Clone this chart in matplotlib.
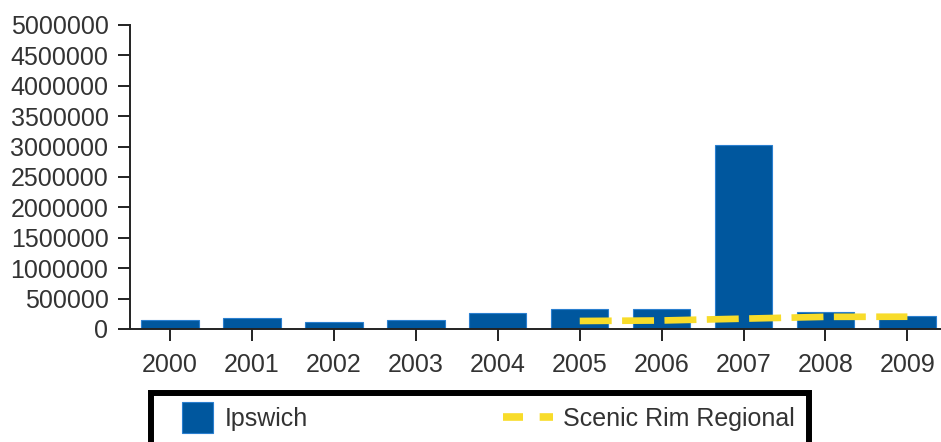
import matplotlib
matplotlib.use('Agg')
import matplotlib.pyplot as plt
import matplotlib.patches as mpatches
from matplotlib.legend_handler import HandlerPatch
from matplotlib.lines import Line2D

# data
years = ['2000', '2001', '2002', '2003', '2004', '2005', '2006', '2007', '2008', '2009']
ipswich = [148000, 186000, 115000, 148000, 257000, 322000, 324000, 3030000, 285000, 219000]
scenic_years = ['2005', '2006', '2007', '2008', '2009']
scenic_rim = [132000, 140000, 170000, 200000, 202000]
yticks = [0, 500000, 1000000, 1500000, 2000000, 2500000, 3000000, 3500000, 4000000, 4500000, 5000000]

BLUE = '#00579e'
EDGE = '#2a7fcf'
YELLOW = '#f8dc2a'
TXT = '#333333'

plt.rcParams['font.family'] = ['Liberation Sans', 'DejaVu Sans']
plt.rcParams['lines.scale_dashes'] = False

fig = plt.figure(figsize=(9.41, 4.42), dpi=100)
ax = fig.add_axes([130/941, 113/442, (941-130)/941, 304/442])

xpos = list(range(len(years)))
ax.bar(xpos, ipswich, width=0.7, color=BLUE, edgecolor=EDGE, linewidth=0.8, zorder=2)
sx = [years.index(y) for y in scenic_years]
ax.plot(sx, scenic_rim, color=YELLOW, lw=4.8, dashes=(23, 7.5), zorder=3)

ax.set_xlim(-0.49, 9.41)
ax.set_ylim(0, 5000000)
ax.set_yticks(yticks)
ax.set_yticklabels([str(v) for v in yticks])
ax.set_xticks(xpos)
ax.set_xticklabels(years)

for s in ['top', 'right']:
    ax.spines[s].set_visible(False)
for s in ['left', 'bottom']:
    ax.spines[s].set_linewidth(1.4)
    ax.spines[s].set_color('#222222')
ax.tick_params(axis='y', length=8.5, width=1.4, pad=7, labelsize=18, colors='#222222', labelcolor=TXT)
ax.tick_params(axis='x', length=8.5, width=1.4, pad=9, labelsize=18, colors='#222222', labelcolor=TXT)


# square legend patch, narrower than the handle box, like the original
def square_patch(legend, orig_handle, xdescent, ydescent, width, height, fontsize):
    side = 0.62 * width
    return mpatches.Rectangle((-xdescent + 0.34 * width, -ydescent + height / 2 - side / 2), side, side)


h_bar = mpatches.Patch(facecolor=BLUE, edgecolor=EDGE, linewidth=0.8)
h_line = Line2D([], [], color=YELLOW, lw=5.5, dashes=(14.4, 12))
leg = fig.legend([h_bar, h_line], ['Ipswich', 'Scenic Rim Regional'],
                 loc='upper left', bbox_to_anchor=(151/941, 0, (809-151)/941, 1-393/442),
                 mode='expand', ncol=2, fontsize=18, frameon=True, fancybox=False,
                 framealpha=1, handlelength=2.0, handletextpad=0.4, borderpad=0.56,
                 borderaxespad=0,
                 handler_map={mpatches.Patch: HandlerPatch(patch_func=square_patch)})
for t in leg.get_texts():
    t.set_color(TXT)
fr = leg.get_frame()
fr.set_edgecolor('black')
fr.set_linewidth(4.3)

fig.savefig('out.png', dpi=100)
